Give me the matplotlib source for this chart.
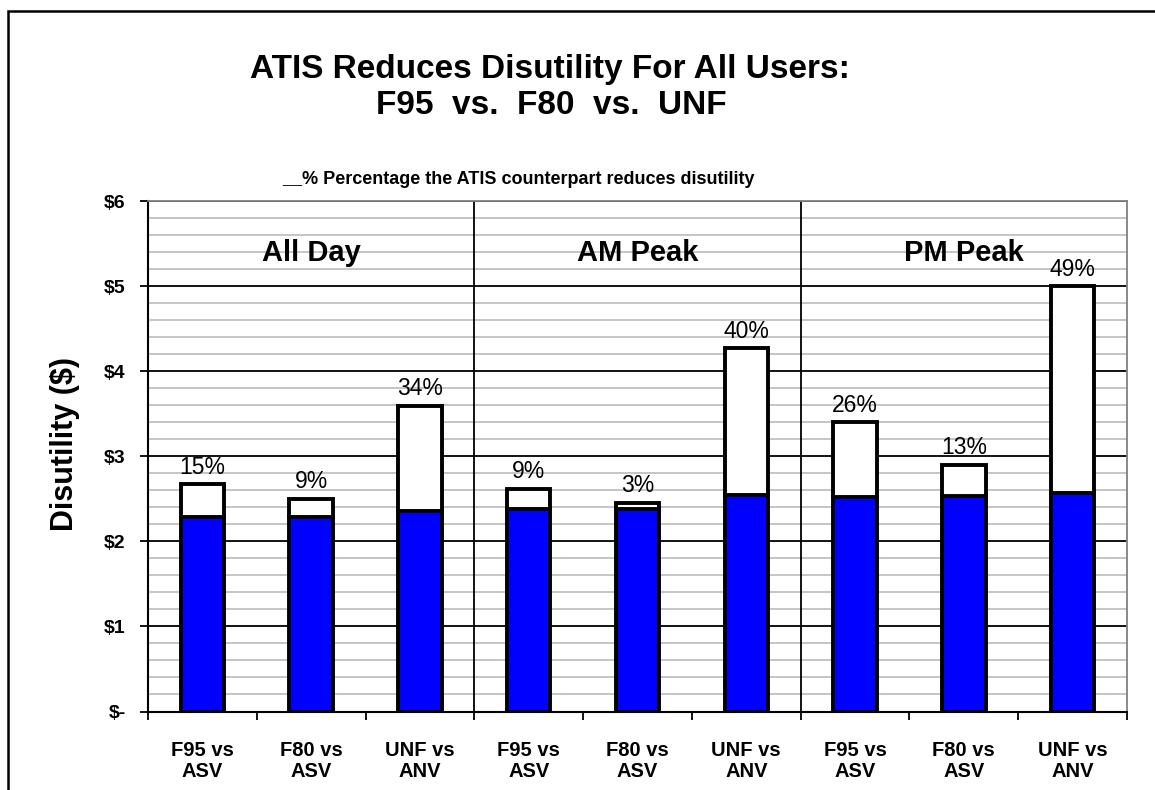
import numpy as np
import matplotlib
matplotlib.use("Agg")
import matplotlib.pyplot as plt
from matplotlib.patches import Rectangle

plt.rcParams['font.family'] = ['Liberation Sans', 'DejaVu Sans']

# data
groups = ["All Day", "AM Peak", "PM Peak"]
pairs = ["F95 vs\nASV", "F80 vs\nASV", "UNF vs\nANV",
         "F95 vs\nASV", "F80 vs\nASV", "UNF vs\nANV",
         "F95 vs\nASV", "F80 vs\nASV", "UNF vs\nANV"]
atis_cost = [2.29, 2.29, 2.36, 2.38, 2.38, 2.55, 2.52, 2.53, 2.57]
total_cost = [2.67, 2.50, 3.59, 2.62, 2.45, 4.27, 3.40, 2.90, 5.00]
pct_labels = ["15%", "9%", "34%", "9%", "3%", "40%", "26%", "13%", "49%"]

atis_cost = np.array(atis_cost)
total_cost = np.array(total_cost)
x = np.arange(len(pairs))

fig = plt.figure(figsize=(11.55, 7.9), dpi=100)
ax = fig.add_axes([148 / 1155, 1 - 711.5 / 790, 979 / 1155, 510.5 / 790])

ax.bar(x, atis_cost, width=0.4, color='#0000FF', edgecolor='black', linewidth=2.8, zorder=3)
ax.bar(x, total_cost - atis_cost, bottom=atis_cost, width=0.4, color='white',
       edgecolor='black', linewidth=2.8, zorder=3)

for xi, top, lab in zip(x, total_cost, pct_labels):
    ax.annotate(lab, (xi, top), xytext=(0, 4), textcoords='offset points',
                ha='center', va='bottom', fontsize=16.5)

# group headers and separators
for i, g in enumerate(groups):
    ax.text(3 * i + 1, 5.39, g, ha='center', va='center', fontsize=21, fontweight='bold')
for sep in [2.5, 5.5]:
    ax.plot([sep, sep], [0, 6], color='black', lw=1.3, zorder=2)

ax.set_xlim(-0.5, len(pairs) - 0.5)
ax.set_ylim(0, 6)

ax.set_yticks(np.arange(0, 7))
ax.set_yticklabels(["$-", "$1", "$2", "$3", "$4", "$5", "$6"], fontsize=14, fontweight='bold')
ax.set_yticks(np.arange(0, 6.01, 0.2), minor=True)
ax.tick_params(axis='y', which='major', direction='out', length=6, width=1.3, pad=10)
ax.tick_params(axis='y', which='minor', length=0)

ax.set_xticks(x)
ax.set_xticklabels(pairs, fontsize=14.5, fontweight='bold', linespacing=1.15)
ax.set_xticks(np.arange(-0.5, len(pairs)), minor=True)
ax.tick_params(axis='x', which='major', length=0, pad=21)
ax.tick_params(axis='x', which='minor', direction='out', length=6, width=1.3)

ax.grid(axis='y', which='minor', color='#C0C0C0', lw=1.3, zorder=0)
ax.grid(axis='y', which='major', color='black', lw=1.3, zorder=1)
ax.set_axisbelow(True)

ax.spines['left'].set_linewidth(1.5)
ax.spines['bottom'].set_linewidth(1.5)
ax.spines['top'].set_color('#808080')
ax.spines['right'].set_color('#808080')
ax.spines['top'].set_linewidth(1.3)
ax.spines['right'].set_linewidth(1.3)

fig.text(65 / 1155, 1 - 444 / 790, "Disutility ($)", rotation=90, ha='center', va='center',
         fontsize=22, fontweight='bold')

fig.text(550 / 1155, 1 - 78 / 790, "ATIS Reduces Disutility For All Users:", ha='center',
         va='baseline', fontsize=24, fontweight='bold')
fig.text(551 / 1155, 1 - 114 / 790, "F95  vs.  F80  vs.  UNF", ha='center',
         va='baseline', fontsize=24, fontweight='bold')
fig.text(518 / 1155, 1 - 180 / 790, "__% Percentage the ATIS counterpart reduces disutility",
         ha='center', va='center', fontsize=13, fontweight='bold')

# outer frame (only the left and top edges fall inside the picture)
fig.patches.append(Rectangle((8 / 1155, -0.5), 2, 1.5 - 11 / 790, fill=False,
                             edgecolor='black', lw=1.8, transform=fig.transFigure))

fig.savefig("out.png", dpi=100)
